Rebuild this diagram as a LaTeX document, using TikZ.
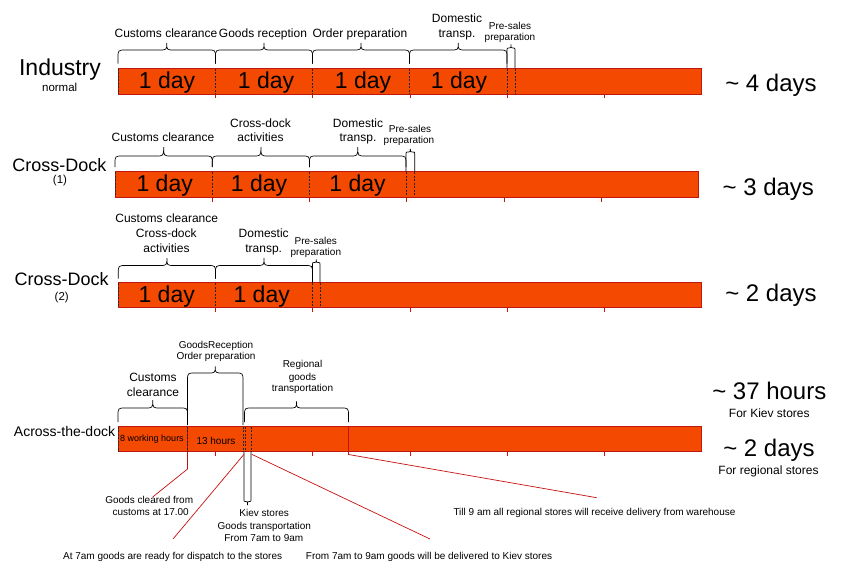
\documentclass[tikz,border=0pt]{standalone}
\usepackage{fontspec}
\setmainfont{Liberation Sans}
\definecolor{barfill}{RGB}{244,73,0}
\definecolor{barline}{RGB}{192,24,16}
\definecolor{leadcol}{RGB}{200,16,16}
\newcommand{\mybrace}[6]{%
 \pgfmathsetmacro\bxm{(#1+#2)/2}%
 \pgfmathsetmacro\byk{(#3>#4) ? #4+#6 : #4-#6}%
 \draw[bracestyle] (#1,#3) -- (#1,\byk) .. controls (#1,#4) .. (#1+#6,#4) -- (\bxm-#6,#4) .. controls (\bxm,#4) .. (\bxm,#5) .. controls (\bxm,#4) .. (\bxm+#6,#4) -- (#2-#6,#4) .. controls (#2,#4) .. (#2,\byk) -- (#2,#3);%
}
\begin{document}
\begin{tikzpicture}[x=1pt,y=-1pt,
  every node/.style={inner sep=0pt,anchor=base},
  bar/.style={fill=barfill,draw=barline,line width=0.8pt},
  tick/.style={draw=barline,line width=0.7pt},
  sepline/.style={draw=black!85,line width=0.6pt,dash pattern=on 2pt off 1.5pt},
  bracestyle/.style={draw=black,line width=0.7pt},
  leadline/.style={draw=leadcol,line width=0.7pt},
  rowtitle/.style={font=\fontsize{23}{26}\selectfont},
  rowtitlemid/.style={font=\fontsize{18}{21}\selectfont},
  rowtitlesm/.style={font=\fontsize{14}{17}\selectfont},
  rowsub/.style={font=\fontsize{11.5}{13}\selectfont},
  daytxt/.style={font=\fontsize{23}{26}\selectfont},
  total/.style={font=\fontsize{24}{28}\selectfont},
  totalsub/.style={font=\fontsize{12}{14}\selectfont},
  lab/.style={font=\fontsize{12}{14}\selectfont},
  labsm/.style={font=\fontsize{10}{12}\selectfont},
  notes/.style={font=\fontsize{10}{12}\selectfont},
  notessm/.style={font=\fontsize{10}{12}\selectfont}]
\useasboundingbox (0,0) rectangle (844,573);

% ---------------- Row 1: Industry ----------------
\draw[bar] (118,68) rectangle (701,94);
\foreach \x in {215,312,410,507,604} \draw[tick] (\x,94) -- (\x,98);
\foreach \x in {118,215.5,312.5,409.5,507,515} \draw[sepline] (\x,68.5) -- (\x,93.5);
\mybrace{118}{215.5}{63.5}{50}{43}{8}
\mybrace{215.5}{312.5}{63.5}{50}{43}{8}
\mybrace{312.5}{409.5}{63.5}{50}{43}{8}
\mybrace{409.5}{507}{63.5}{50}{43}{8}
\mybrace{507}{515}{68}{48}{44.5}{2}
\node[rowtitle] (ind) at (60,75) {Industry};
\node[rowsub] (indsub) at (59.7,91.7) {normal};
\node[daytxt] (d11) at (167,88.3) {1 day};
\node[daytxt] (d12) at (266,88.3) {1 day};
\node[daytxt] (d13) at (363,88.3) {1 day};
\node[daytxt] (d14) at (459,88.3) {1 day};
\node[total] (t1) at (771,91.7) {\textasciitilde{} 4 days};
\node[lab] (cc1) at (166,37.7) {Customs clearance};
\node[lab] (gr1) at (263,37.7) {Goods reception};
\node[lab] (op1) at (360,37.7) {Order preparation};
\node[lab] (dt1a) at (457,22.7) {Domestic};
\node[lab] (dt1b) at (457,37.3) {transp.};
\node[labsm] (ps1a) at (510,29) {Pre-sales};
\node[labsm] (ps1b) at (510,40) {preparation};

% ---------------- Row 2: Cross-Dock (1) ----------------
\draw[bar] (115,171.7) rectangle (698.3,197.2);
\foreach \x in {212.3,309.5,406,504,601} \draw[tick] (\x,197.2) -- (\x,201.5);
\foreach \x in {115,212.3,309.5,406,414.7} \draw[sepline] (\x,172.2) -- (\x,196.7);
\mybrace{115}{212.3}{167}{156}{147}{8}
\mybrace{212.3}{309.5}{167}{156}{147}{8}
\mybrace{309.5}{406}{167}{156}{147}{8}
\mybrace{406}{414.7}{171.7}{152}{149}{2}
\node[rowtitlemid] (cd1) at (59.3,171) {Cross-Dock};
\node[rowsub] (cd1sub) at (60,183.3) {(1)};
\node[daytxt] (d21) at (164.7,191.7) {1 day};
\node[daytxt] (d22) at (259,191.7) {1 day};
\node[daytxt] (d23) at (357.5,191.7) {1 day};
\node[total] (t2) at (768.3,195) {\textasciitilde{} 3 days};
\node[lab] (cc2) at (163,141.7) {Customs clearance};
\node[lab] (cx2a) at (260.5,127.7) {Cross-dock};
\node[lab] (cx2b) at (260.5,141.7) {activities};
\node[lab] (dt2a) at (358,127.7) {Domestic};
\node[lab] (dt2b) at (358,141.7) {transp.};
\node[labsm] (ps2a) at (410,132.7) {Pre-sales};
\node[labsm] (ps2b) at (409,143.7) {preparation};

% ---------------- Row 3: Cross-Dock (2) ----------------
\draw[bar] (118.3,282.7) rectangle (701.7,307.7);
\foreach \x in {215,312,410,507,604} \draw[tick] (\x,307.7) -- (\x,312);
\foreach \x in {118.3,215.5,312.5,320} \draw[sepline] (\x,283.2) -- (\x,307.2);
\mybrace{118.3}{215.5}{278.5}{265.5}{258}{8}
\mybrace{215.5}{312.5}{278.5}{265.5}{258}{8}
\mybrace{312.5}{320}{282.7}{262.5}{259.5}{1.8}
\node[rowtitlemid] (cd2) at (61.7,285) {Cross-Dock};
\node[rowsub] (cd2sub) at (61.7,300.7) {(2)};
\node[daytxt] (d31) at (166.7,302.3) {1 day};
\node[daytxt] (d32) at (261.7,302.3) {1 day};
\node[total] (t3) at (771,301.7) {\textasciitilde{} 2 days};
\node[lab] (cc3) at (166.7,222.7) {Customs clearance};
\node[lab] (cx3a) at (166.3,237.7) {Cross-dock};
\node[lab] (cx3b) at (166.5,252.7) {activities};
\node[lab] (dt3a) at (263.7,237.7) {Domestic};
\node[lab] (dt3b) at (263.7,252.7) {transp.};
\node[labsm] (ps3a) at (315.8,244) {Pre-sales};
\node[labsm] (ps3b) at (315.8,255) {preparation};

% ---------------- Row 4: Across-the-dock ----------------
\draw[bar] (118,426) rectangle (701,451.7);
\foreach \x in {215,312,410,507,604} \draw[tick] (\x,451.7) -- (\x,456);
\draw[leadline] (348.5,426.4) -- (348.5,451.7);
\draw[leadline] (187.5,426.4) -- (187.5,451.7);
\foreach \x in {118,187.5,243.3,245.3,251} \draw[sepline] (\x,426.5) -- (\x,451.2);
\mybrace{118}{187.5}{422}{408}{400}{8}
\mybrace{187.5}{243}{425}{373}{366.5}{8}
\mybrace{244.5}{348.5}{422}{408}{401.5}{8}
\mybrace{244}{251}{452}{501.5}{505}{1.7}
\node[rowtitlesm] (atd) at (64.5,436) {Across-the-dock};
\node[lab] (cc4a) at (153,381) {Customs};
\node[lab] (cc4b) at (153,396) {clearance};
\node[labsm] (gr4a) at (216,348.3) {GoodsReception};
\node[labsm] (gr4b) at (216,359.3) {Order preparation};
\node[labsm] (rg4a) at (302.5,367.7) {Regional};
\node[labsm] (rg4b) at (302.5,380) {goods};
\node[labsm] (rg4c) at (302.5,391.7) {transportation};
\node[font=\fontsize{9}{11}\selectfont] (wh) at (152,441.7) {8 working hours};
\node[labsm] (h13) at (216,444) {13 hours};
\node[total] (t4a) at (769.3,399.3) {\textasciitilde{} 37 hours};
\node[totalsub] (t4as) at (769.3,417.3) {For Kiev stores};
\node[total] (t4b) at (769,456.7) {\textasciitilde{} 2 days};
\node[totalsub] (t4bs) at (768.5,474) {For regional stores};

% notes below
\node[notes] (gc1) at (149.2,503.3) {Goods cleared from};
\node[notes] (gc2) at (150.7,515.7) {customs at 17.00};
\node[notes] (ks1) at (264.2,516) {Kiev stores};
\node[notes] (ks2) at (264.3,529) {Goods transportation};
\node[notes] (ks3) at (263.8,541) {From 7am to 9am};
\node[notessm,anchor=base east] (at7) at (282.3,559) {At 7am goods are ready for dispatch to the stores};
\node[notessm,anchor=base west] (fr7) at (305.7,559) {From 7am to 9am goods will be delivered to Kiev stores};
\node[notessm,anchor=base west] (till) at (453.3,515.7) {Till 9 am all regional stores will receive delivery from warehouse};

% leader lines
\coordinate (l1a) at (187.5,451.7);
\coordinate (l1b) at (187.5,469);
\coordinate (l1e) at (152.7,497);
\coordinate (l2a) at (244,454.3);
\coordinate (l2e) at (173,539);
\coordinate (l3a) at (251.7,454.3);
\coordinate (l3e) at (430,539);
\coordinate (l4a) at (348.5,451.7);
\coordinate (l4b) at (348.5,454.5);
\coordinate (l4e) at (596.7,497.7);
\draw[leadline] (l1a) -- (l1b) -- (l1e);
\draw[leadline] (l2a) -- (l2e);
\draw[leadline] (l3a) -- (l3e);
\draw[leadline] (l4a) -- (l4b) -- (l4e);
\end{tikzpicture}
\end{document}
